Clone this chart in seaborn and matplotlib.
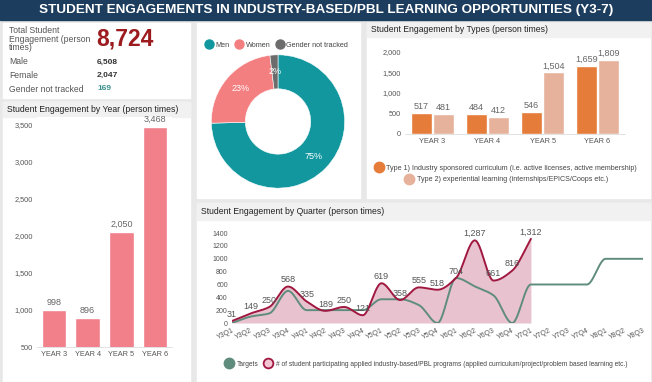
import numpy as np
import pandas as pd
import seaborn as sns
import matplotlib.pyplot as plt
from matplotlib.patches import Rectangle
from matplotlib.lines import Line2D

# ---- data ----
years = ["YEAR 3", "YEAR 4", "YEAR 5", "YEAR 6"]
year_totals = [998, 896, 2050, 3468]
type1 = [517, 484, 546, 1659]
type2 = [481, 412, 1504, 1809]
type_names = ["Type 1) Industry sponsored curriculum (i.e. active licenses, active membership)",
              "Type 2) experiential learning (internships/EPICS/Coops etc.)"]
gender_names = ["Men", "Women", "Gender not tracked"]
gender_counts = [6508, 2047, 169]
total = 8724
quarters = ["Y3Q1", "Y3Q2", "Y3Q3", "Y3Q4", "Y4Q1", "Y4Q2", "Y4Q3", "Y4Q4",
            "Y5Q1", "Y5Q2", "Y5Q3", "Y5Q4", "Y6Q1", "Y6Q2", "Y6Q3", "Y6Q4",
            "Y7Q1", "Y7Q2", "Y7Q3", "Y7Q4", "Y8Q1", "Y8Q2", "Y8Q3"]
actual = [31, 149, 250, 568, 335, 189, 250, 121, 619, 358, 555, 518, 704, 1287, 661, 816, 1312]
targets = [0, 100, 150, 500, 200, 200, 200, 200, 370, 370, 280, 0, 700, 570, 430, 0,
           600, 600, 600, 600, 1000, 1000, 1000]

W, H = 652, 382
sns.set_theme(style="white")
plt.rcParams['font.family'] = ['Liberation Sans', 'DejaVu Sans']

fig = plt.figure(figsize=(W / 100, H / 100), dpi=100)
fig.patch.set_facecolor("#e8e8e8")


def fbox(x0, y0, x1, y1):
    return [x0 / W, 1 - y1 / H, (x1 - x0) / W, (y1 - y0) / H]


def fxy(x, y):
    return x / W, 1 - y / H


def panel(x0, y0, x1, y1, title=None, hy=None):
    fig.patches.append(Rectangle((x0 / W, 1 - y1 / H), (x1 - x0) / W, (y1 - y0) / H,
                                 transform=fig.transFigure, color="white", zorder=-10))
    if title:
        fig.patches.append(Rectangle((x0 / W, 1 - hy / H), (x1 - x0) / W, (hy - y0) / H,
                                     transform=fig.transFigure, color="#f1f1f1", zorder=-9))
        fig.text((x0 + 4) / W, 1 - (y0 + hy) / 2 / H, title, fontsize=6.2,
                 color="#222222", va="center")


# title bar
fig.patches.append(Rectangle((0, 1 - 20 / H), 1, 20 / H, transform=fig.transFigure,
                             color="#1c3d5e", zorder=-10))
fig.text(0.5, 1 - 10.5 / H, "STUDENT ENGAGEMENTS IN INDUSTRY-BASED/PBL LEARNING OPPORTUNITIES (Y3-7)",
         ha="center", va="center", color="white", fontsize=9.7, fontweight="bold")

# panels
panel(3, 23, 190, 98)
panel(3, 102, 190, 382, "Student Engagement by Year (person times)", 117)
panel(197, 23, 360, 198)
panel(367, 23, 650, 198, "Student Engagement by Types (person times)", 37)
panel(197, 203, 650, 382, "Student Engagement by Quarter (person times)", 220)

# KPI card
fig.text(*fxy(9, 26), "Total Student\nEngagement (person\ntimes)", fontsize=6.2, color="#555555",
         va="top", linespacing=0.95)
fig.text(*fxy(96, 39), f"{total:,}", fontsize=16.5, fontweight="bold", color="#9b1b1f", va="center")
kpi_colors = ["#333333", "#333333", "#3a8f8f"]
for i, (name, val) in enumerate(zip(["Male", "Female", "Gender not tracked"], gender_counts)):
    yy = 62 + i * 13.5
    fig.text(*fxy(9, yy), name, fontsize=6.2, color="#555555", va="center")
    fig.text(*fxy(97, yy), f"{val:,}", fontsize=6, color=kpi_colors[i], va="center", fontweight="bold")

# by year
ax1 = fig.add_axes(fbox(37, 117, 172, 347))
df_year = pd.DataFrame({"year": years, "total": year_totals})
sns.barplot(data=df_year, x="year", y="total", color="#f1808a", saturation=1, width=0.72, ax=ax1)
ax1.set_ylim(500, 3600)
ax1.set_yticks(range(500, 3501, 500))
ax1.set_yticklabels([f"{v:,}" for v in range(500, 3501, 500)])
for i, v in enumerate(year_totals):
    ax1.text(i, v + 40, f"{v:,}", ha="center", va="bottom", fontsize=6.5, color="#666666")

# donut
ax2 = fig.add_axes(fbox(210, 53.5, 346, 189.5))
wedges, _, autotexts = ax2.pie(gender_counts, colors=["#12979f", "#f47f80", "#6c6c6c"],
                               startangle=90, counterclock=False, radius=1,
                               wedgeprops=dict(width=0.51, edgecolor="white", linewidth=0.4),
                               autopct=lambda p: f"{p:.0f}%", pctdistance=0.75,
                               textprops=dict(color="white", fontsize=6.5))
ax2.set_xlim(-1.02, 1.02)
ax2.set_ylim(-1.02, 1.02)
ax2.set_aspect("equal")
leg_handles = [Line2D([], [], marker="o", ls="", markersize=6.5, color=c)
               for c in ["#12979f", "#f47f80", "#6c6c6c"]]
ax2.legend(leg_handles, gender_names, loc="center", bbox_to_anchor=(276 / W, 1 - 45 / H),
           bbox_transform=fig.transFigure, ncol=3, frameon=False, fontsize=5.2,
           handlelength=1.4, handletextpad=0.2, columnspacing=0.6, labelcolor="#444444")

# by types
ax3 = fig.add_axes(fbox(405, 45, 625, 134))
df_type = pd.DataFrame({"year": years * 2, "value": type1 + type2,
                        "type": [type_names[0]] * 4 + [type_names[1]] * 4})
sns.barplot(data=df_type, x="year", y="value", hue="type", palette=["#e67c3a", "#e6b29b"],
            saturation=1, width=0.8, gap=0.07, ax=ax3, legend=False)
ax3.set_ylim(0, 2170)
ax3.set_yticks(range(0, 2001, 500))
ax3.set_yticklabels([f"{v:,}" for v in range(0, 2001, 500)])
for bar_container in ax3.containers:
    for b in bar_container:
        h = b.get_height()
        ax3.text(b.get_x() + b.get_width() / 2, h + 45, f"{h:,.0f}", ha="center", va="bottom",
                 fontsize=6.5, color="#666666")
h1 = Line2D([], [], marker="o", ls="", markersize=7.5, color="#e67c3a")
h2 = Line2D([], [], marker="o", ls="", markersize=7.5, color="#e6b29b")
lg1 = ax3.legend([h1], [type_names[0]], loc="center", bbox_to_anchor=(505 / W, 1 - 168 / H),
                 bbox_transform=fig.transFigure, frameon=False, fontsize=5.1,
                 handlelength=1.6, handletextpad=0.3, labelcolor="#444444")
ax3.add_artist(lg1)
ax3.legend([h2], [type_names[1]], loc="center", bbox_to_anchor=(506 / W, 1 - 180 / H),
           bbox_transform=fig.transFigure, frameon=False, fontsize=5.1,
           handlelength=1.6, handletextpad=0.3, labelcolor="#444444")

for ax in (ax1, ax3):
    ax.set_xlabel("")
    ax.set_ylabel("")
    sns.despine(ax=ax, left=True, bottom=False)
    ax.spines["bottom"].set_color("#dddddd")
    ax.spines["bottom"].set_linewidth(0.6)
    ax.tick_params(axis="both", length=0, labelsize=5.3, colors="#555555", pad=3)
    ax.set_facecolor("white")


# quarter chart
def smooth(vals, n=24):
    # monotone cubic (pchip-like) smoothing of the line between points
    y = np.asarray(vals, dtype=float)
    d = np.diff(y)
    m = np.zeros_like(y)
    m[0], m[-1] = d[0], d[-1]
    for k in range(1, len(y) - 1):
        if d[k - 1] * d[k] > 0:
            m[k] = 2 / (1 / d[k - 1] + 1 / d[k])
    xs, ys = [], []
    for k in range(len(y) - 1):
        t = np.linspace(0, 1, n, endpoint=False)
        h00 = 2 * t**3 - 3 * t**2 + 1
        h10 = t**3 - 2 * t**2 + t
        h01 = -2 * t**3 + 3 * t**2
        h11 = t**3 - t**2
        xs.append(k + t)
        ys.append(h00 * y[k] + h10 * m[k] + h01 * y[k + 1] + h11 * m[k + 1])
    xs.append([len(y) - 1])
    ys.append([y[-1]])
    return np.concatenate(xs), np.concatenate(ys)


ax4 = fig.add_axes(fbox(232, 228, 643, 323))
xa, ya = smooth(actual)
xt, yt = smooth(targets)
ax4.fill_between(xa, 0, ya, color="#e8c3cf", lw=0, zorder=1)
sns.lineplot(x=xt, y=yt, color="#5f8c7d", lw=1.4, ax=ax4, zorder=2)
sns.lineplot(x=xa, y=ya, color="#a0173f", lw=1.4, ax=ax4, zorder=3)
for i, v in enumerate(actual):
    ax4.text(i, v + 35, f"{v:,}", ha="center", va="bottom", fontsize=6.5, color="#555555",
             clip_on=False, zorder=4)
ax4.set_xlim(0, len(quarters) - 1)
ax4.set_ylim(0, 1480)
ax4.set_yticks(range(0, 1401, 200))
ax4.set_xticks(range(len(quarters)))
ax4.set_xticklabels(quarters, rotation=25, ha="right", rotation_mode="anchor")
sns.despine(ax=ax4, left=True, bottom=True)
ax4.tick_params(axis="both", length=0, labelsize=5, colors="#555555", pad=3)
ax4.set_facecolor("white")
q1 = Line2D([], [], marker="o", ls="", markersize=7.5, color="#5f8c7d")
q2 = Line2D([], [], marker="o", ls="", markersize=7, markerfacecolor="#f4c6d3",
            markeredgecolor="#a0173f", markeredgewidth=1.3)
ax4.legend([q1, q2], ["Targets", "# of student participating applied industry-based/PBL programs "
                      "(applied curriculum/project/problem based learning etc.)"],
           loc="center left", bbox_to_anchor=(217 / W, 1 - 364 / H), bbox_transform=fig.transFigure,
           ncol=2, frameon=False, fontsize=4.8, handlelength=1.8, handletextpad=0.3,
           columnspacing=0.5, labelcolor="#444444")

fig.savefig("out.png", dpi=100, facecolor=fig.get_facecolor())
